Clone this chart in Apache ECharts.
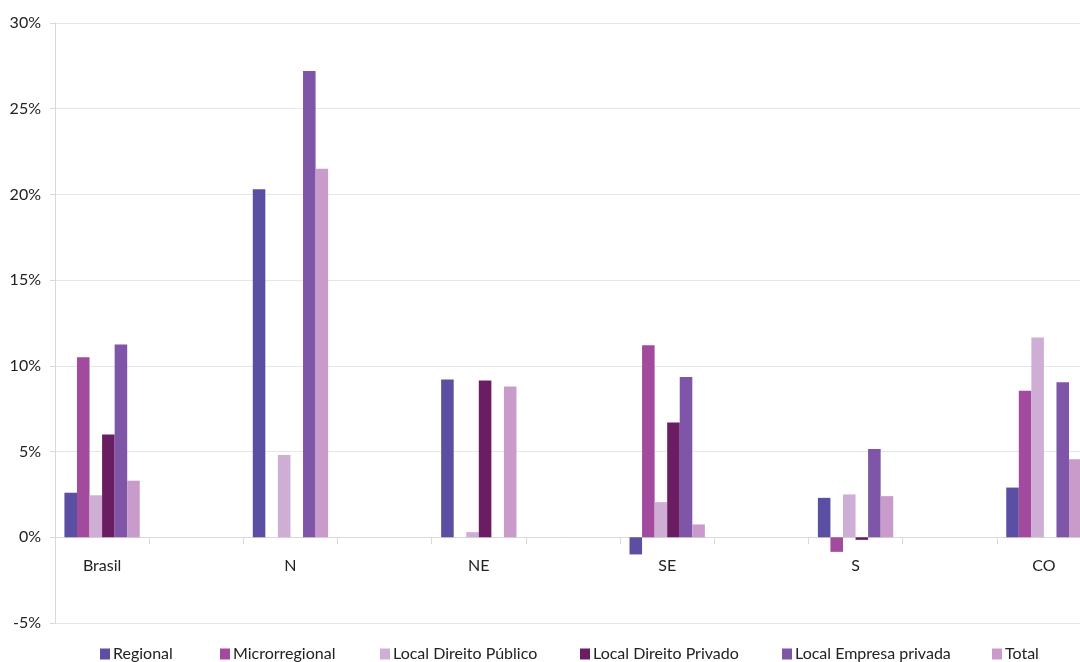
<!DOCTYPE html>
<html>
<head>
<meta charset="utf-8">
<script src="https://cdn.jsdelivr.net/npm/echarts@6/dist/echarts.min.js"></script>
<style>
html,body{margin:0;padding:0;background:#fff;}
#c{width:1080px;height:662px;}
</style>
</head>
<body>
<div id="c"></div>
<script>
const categories = ['Brasil', '', 'N', '', 'NE', '', 'SE', '', 'S', '', 'CO'];
const seriesNames = ['Regional', 'Microrregional', 'Local Direito Público', 'Local Direito Privado', 'Local Empresa privada', 'Total'];
const regional       = [2.6,  null, 20.3, null, 9.2,  null, -1.0, null, 2.3,   null, 2.9];
const microrregional = [10.5, null, 0,    null, 0,    null, 11.2, null, -0.85, null, 8.55];
const localDirPublico= [2.45, null, 4.8,  null, 0.3,  null, 2.05, null, 2.5,   null, 11.65];
const localDirPrivado= [6.0,  null, 0,    null, 9.15, null, 6.7,  null, -0.15, null, 0];
const localEmpPrivada= [11.25,null, 27.2, null, 0,    null, 9.35, null, 5.15,  null, 9.05];
const total          = [3.3,  null, 21.5, null, 8.8,  null, 0.75, null, 2.4,   null, 4.55];
const yTicks = [-5, 0, 5, 10, 15, 20, 25, 30];

const colors = ['#5a4fa3', '#a24a9e', '#cfaed6', '#6b1d62', '#7f55a8', '#c99bcb'];
const allData = [regional, microrregional, localDirPublico, localDirPrivado, localEmpPrivada, total];
const legendLeft = [100, 220, 380, 580, 782, 992];
const FONT = 'Lato';

const chart = echarts.init(document.getElementById('c'), null, {renderer: 'canvas'});
const option = {
  animation: false,
  backgroundColor: '#ffffff',
  textStyle: {fontFamily: FONT},
  grid: {left: 55, width: 1036, top: 23, bottom: 39, containLabel: false, outerBoundsMode: 'none'},
  legend: seriesNames.map((n, i) => ({
    data: [n],
    left: legendLeft[i],
    top: 646,
    padding: 0,
    itemWidth: 10,
    itemHeight: 11,
    itemGap: 4,
    icon: 'rect',
    textStyle: {fontFamily: FONT, fontSize: 16, color: '#222222', padding: [0, 0, 0, -2]}
  })),
  xAxis: {
    type: 'category',
    data: categories,
    axisLine: {onZero: true, lineStyle: {color: '#d9d9d9', width: 1}},
    axisTick: {show: true, interval: 0, length: 7, lineStyle: {color: '#d9d9d9'}},
    axisLabel: {interval: 0, fontFamily: FONT, fontSize: 16, color: '#222222', margin: -65},
    splitLine: {show: false}
  },
  yAxis: {
    type: 'value',
    min: yTicks[0],
    max: yTicks[yTicks.length - 1],
    interval: 5,
    axisLine: {show: true, lineStyle: {color: '#d9d9d9'}},
    axisTick: {show: true, length: 5, lineStyle: {color: '#d9d9d9'}},
    axisLabel: {formatter: v => v + '%', fontFamily: FONT, fontSize: 16, color: '#222222', margin: 14},
    splitLine: {lineStyle: {color: '#e6e6e6'}}
  },
  series: seriesNames.map((n, i) => ({
    name: n,
    type: 'bar',
    data: allData[i],
    itemStyle: {color: colors[i]},
    barGap: '0%',
    barCategoryGap: '20%'
  }))
};
chart.setOption(option);
</script>
</body>
</html>
